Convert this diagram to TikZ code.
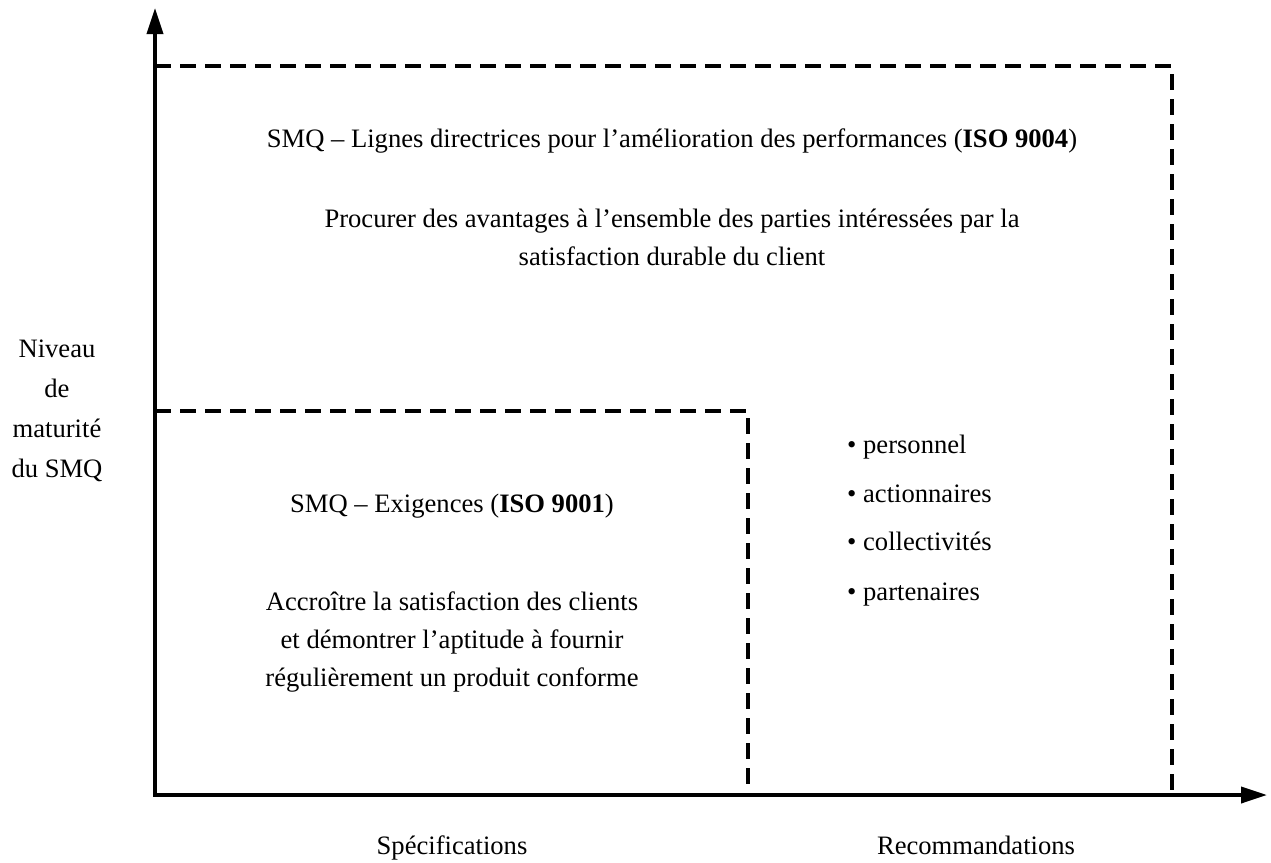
\documentclass[tikz,border=0pt]{standalone}
\usepackage{fontspec}
\setmainfont{Liberation Serif}
\usetikzlibrary{arrows.meta}
\begin{document}
\begin{tikzpicture}[x=1pt,y=-1pt,
  axis/.style={line width=3.8pt,-{Triangle[length=26pt,width=16pt]}},
  dashbox/.style={line width=3.2pt,dash pattern=on 16pt off 9pt},
  txt/.style={font=\fontsize{26.6}{38}\selectfont,anchor=base,inner sep=0pt},
  item/.style={font=\fontsize{26.6}{38}\selectfont,anchor=base west,inner sep=0pt}]
\useasboundingbox (0,0) rectangle (1271,862);
% coordinates
\coordinate (O) at (155,795);
\coordinate (Ytop) at (155,8);
\coordinate (Xend) at (1267,795);
\coordinate (A1) at (155,66);
\coordinate (A2) at (1172,66);
\coordinate (A3) at (1172,795);
\coordinate (B1) at (155,411);
\coordinate (B2) at (748,411);
\coordinate (B3) at (748,795);
% dashed boxes
\draw[dashbox] (A1) -- (A2) -- (A3);
\draw[dashbox] (B1) -- (B2) -- (B3);
% axes
\draw[axis] ([xshift=-1.9pt]O) -- (Xend);
\draw[axis] ([yshift=1.9pt]O) -- (Ytop);
% texts
\node[txt] (t1) at (672,147) {SMQ – Lignes directrices pour l’amélioration des performances (\textbf{ISO 9004})};
\node[txt] (t2a) at (672,227) {Procurer des avantages à l’ensemble des parties intéressées par la};
\node[txt] (t2b) at (672,265) {satisfaction durable du client};
\node[txt] (y1) at (57,357) {Niveau};
\node[txt] (y2) at (57,397) {de};
\node[txt] (y3) at (57,437) {maturité};
\node[txt] (y4) at (57,477) {du SMQ};
\node[txt] (t3) at (452,512) {SMQ – Exigences (\textbf{ISO 9001})};
\node[txt] (t4a) at (452,610) {Accroître la satisfaction des clients};
\node[txt] (t4b) at (452,648) {et démontrer l’aptitude à fournir};
\node[txt] (t4c) at (452,686) {régulièrement un produit conforme};
\node[item] (i1) at (847,453) {• personnel};
\node[item] (i2) at (847,502) {• actionnaires};
\node[item] (i3) at (847,550) {• collectivités};
\node[item] (i4) at (847,600) {• partenaires};
\node[txt] (xl1) at (452,854) {Spécifications};
\node[txt] (xl2) at (976,854) {Recommandations};
\end{tikzpicture}
\end{document}
